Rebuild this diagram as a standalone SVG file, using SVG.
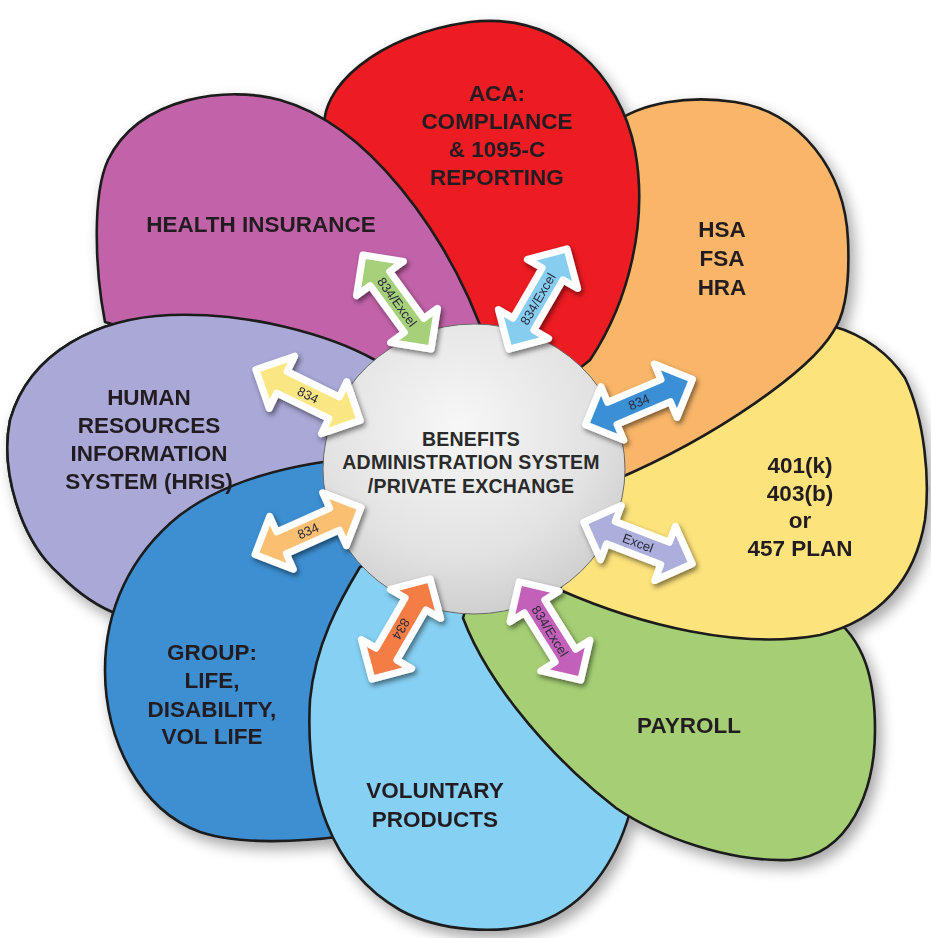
<svg xmlns="http://www.w3.org/2000/svg" width="931" height="938" viewBox="0 0 931 938">
<style>
.petal{stroke:#1c1c1c;stroke-width:2.6;stroke-linejoin:round}
.lbl{font-family:"Liberation Sans",Arial,sans-serif;font-weight:bold;font-size:22.5px;fill:#231f20;text-anchor:middle}
.ctr{font-family:"Liberation Sans",Arial,sans-serif;font-weight:bold;font-size:19.5px;fill:#2a2a2a;text-anchor:middle;letter-spacing:0.2px}
.arr{stroke:#ffffff;stroke-width:7;stroke-linejoin:round}
.al{font-family:"Liberation Sans",Arial,sans-serif;font-size:13px;fill:#2a2a3a;text-anchor:middle;dominant-baseline:central}
</style>
<defs>
<filter id="pshadow" x="-10%" y="-10%" width="125%" height="125%">
<feDropShadow dx="5" dy="7" stdDeviation="7" flood-color="#000" flood-opacity="0.35"/>
</filter>
<filter id="ashadow" x="-40%" y="-40%" width="180%" height="180%">
<feDropShadow dx="2" dy="3" stdDeviation="2.5" flood-color="#000" flood-opacity="0.5"/>
</filter>
<radialGradient id="discg" cx="0.45" cy="0.35" r="0.75">
<stop offset="0" stop-color="#f7f7f7"/>
<stop offset="0.6" stop-color="#e2e2e2"/>
<stop offset="1" stop-color="#c6c6c6"/>
</radialGradient>
<path id="p-hris" d="M 430 420 L 375 360 C 330 335 250 312 170 315 C 100 318 30 350 10 420 C 0 470 20 540 60 575 C 80 595 100 608 120 615 C 200 580 300 520 400 480 Z"/>
<path id="p-group" d="M 420 500 L 323 462 C 270 470 220 485 180 515 C 130 555 105 610 105 670 C 105 740 140 810 200 832 C 240 845 300 842 345 836 C 335 720 375 620 430 560 Z"/>
<path id="p-vol" d="M 440 540 L 360 567 C 340 600 315 645 310 700 C 305 790 330 870 400 910 C 440 932 500 935 540 922 C 585 905 615 865 630 812 L 640 790 C 590 740 540 680 500 610 Z"/>
<path id="p-pay" d="M 480 560 L 463 618 C 490 690 560 765 616 808 C 660 838 730 862 790 860 C 850 855 875 790 875 730 C 875 680 865 640 830 615 C 760 600 640 590 560 560 Z"/>
<path id="p-401" d="M 600 455 C 680 400 770 335 832 326 C 865 335 890 355 905 378 C 925 420 930 480 925 520 C 915 580 880 620 820 635 C 740 650 640 625 560 590 Z"/>
<path id="p-hsa" d="M 560 400 C 585 300 595 200 612 125 C 640 102 690 95 735 102 C 800 112 845 170 848 240 C 850 285 845 315 833 332 C 810 370 720 435 615 480 Z"/>
<path id="p-aca" d="M 480 390 C 420 300 350 220 325 130 C 318 90 375 35 470 22 C 560 12 620 75 635 150 C 648 220 630 300 590 360 L 540 400 Z"/>
<path id="p-hi" d="M 500 360 L 480 325 C 445 235 370 125 280 100 C 230 86 140 95 108 160 C 92 195 95 270 105 322 C 200 350 360 380 440 440 Z"/>
<clipPath id="clipHris"><path d="M 0 0 H 480 V 440 L 330 452 L 200 488 L 120 548 L 0 568 Z"/></clipPath>
<path id="arrow" d="M -58 0 L -29 -29 L -29 -12 L 29 -12 L 29 -29 L 58 0 L 29 29 L 29 12 L -29 12 L -29 29 Z"/>
</defs>
<rect width="931" height="938" fill="#ffffff"/>
<g id="flower" filter="url(#pshadow)">
<use id="hris-base" href="#p-hris" class="petal" fill="#a9a8d6"/>
<g id="node-group">
<use href="#p-group" class="petal" fill="#3d8fd1"/>
<text class="lbl" x="212" y="660">GROUP:</text>
<text class="lbl" x="212" y="688">LIFE,</text>
<text class="lbl" x="212" y="717">DISABILITY,</text>
<text class="lbl" x="212" y="744">VOL LIFE</text>
</g>
<g id="node-voluntary">
<use href="#p-vol" class="petal" fill="#86d0f3"/>
<text class="lbl" x="435" y="798">VOLUNTARY</text>
<text class="lbl" x="435" y="827">PRODUCTS</text>
</g>
<g id="node-payroll">
<use href="#p-pay" class="petal" fill="#a6cf74"/>
<text class="lbl" x="689" y="733">PAYROLL</text>
</g>
<g id="node-401k">
<use href="#p-401" class="petal" fill="#fde37c"/>
<text class="lbl" x="800" y="473">401(k)</text>
<text class="lbl" x="800" y="501">403(b)</text>
<text class="lbl" x="800" y="528">or</text>
<text class="lbl" x="800" y="556">457 PLAN</text>
</g>
<g id="node-hsa">
<use href="#p-hsa" class="petal" fill="#f9b669"/>
<text class="lbl" x="722" y="237">HSA</text>
<text class="lbl" x="722" y="266">FSA</text>
<text class="lbl" x="722" y="295">HRA</text>
</g>
<g id="node-aca">
<use href="#p-aca" class="petal" fill="#ec1c24"/>
<text class="lbl" x="497" y="101">ACA:</text>
<text class="lbl" x="497" y="129">COMPLIANCE</text>
<text class="lbl" x="497" y="157">&amp; 1095-C</text>
<text class="lbl" x="497" y="185">REPORTING</text>
</g>
<g id="node-health">
<use href="#p-hi" class="petal" fill="#c264aa"/>
<text class="lbl" x="261" y="232">HEALTH INSURANCE</text>
</g>
<g id="node-hris">
<use href="#p-hris" class="petal" fill="#a9a8d6" clip-path="url(#clipHris)"/>
<text class="lbl" x="149" y="405">HUMAN</text>
<text class="lbl" x="149" y="433">RESOURCES</text>
<text class="lbl" x="149" y="461">INFORMATION</text>
<text class="lbl" x="149" y="489">SYSTEM (HRIS)</text>
</g>
</g>
<g id="node-center">
<ellipse cx="474" cy="469" rx="151" ry="145" fill="url(#discg)" stroke="#6a6a6a" stroke-width="1"/>
<text class="ctr" x="471" y="446">BENEFITS</text>
<text class="ctr" x="471" y="469">ADMINISTRATION SYSTEM</text>
<text class="ctr" x="471" y="493">/PRIVATE EXCHANGE</text>
</g>
<g id="connectors" filter="url(#ashadow)">
<g transform="translate(397,302) rotate(54)"><use href="#arrow" class="arr" fill="#a6d07a"/><text class="al">834/Excel</text></g>
<g transform="translate(538,299) rotate(-60)"><use href="#arrow" class="arr" fill="#87cdf0"/><text class="al">834/Excel</text></g>
<g transform="translate(639,402) rotate(-23)"><use href="#arrow" class="arr" fill="#3b8fd4"/><text class="al">834</text></g>
<g transform="translate(638,543) rotate(21)"><use href="#arrow" class="arr" fill="#acaedb"/><text class="al">Excel</text></g>
<g transform="translate(550,631) rotate(58)"><use href="#arrow" class="arr" fill="#c360b9"/><text class="al">834/Excel</text></g>
<g transform="translate(401,629) rotate(120)"><use href="#arrow" class="arr" fill="#f47c45"/><text class="al">834</text></g>
<g transform="translate(308,531) rotate(-24)"><use href="#arrow" class="arr" fill="#fbbf72"/><text class="al">834</text></g>
<g transform="translate(308,395) rotate(26)"><use href="#arrow" class="arr" fill="#fae784"/><text class="al">834</text></g>
</g>
</svg>
